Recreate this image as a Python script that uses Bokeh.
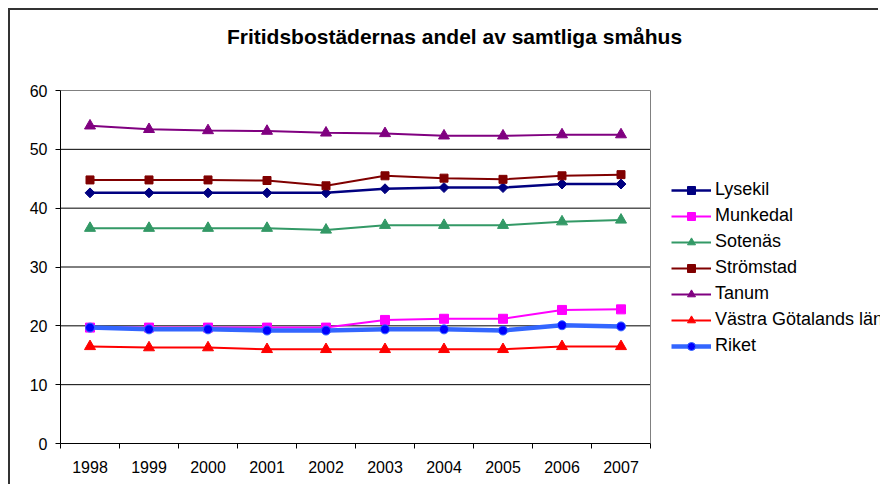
import math
from bokeh.plotting import figure
from bokeh.models import FixedTicker, Legend, LegendItem, Range1d, Label
from bokeh.embed import file_html
from bokeh.resources import INLINE

title_text = "Fritidsbostädernas andel av samtliga småhus"
years = ["1998", "1999", "2000", "2001", "2002", "2003", "2004", "2005", "2006", "2007"]
y_ticks = [0, 10, 20, 30, 40, 50, 60]

lysekil = [42.6, 42.6, 42.6, 42.6, 42.6, 43.3, 43.5, 43.5, 44.1, 44.1]
munkedal = [19.7, 19.7, 19.7, 19.7, 19.7, 21.0, 21.2, 21.2, 22.7, 22.8]
sotenas = [36.6, 36.6, 36.6, 36.6, 36.3, 37.1, 37.1, 37.1, 37.7, 38.0]
stromstad = [44.8, 44.8, 44.8, 44.7, 43.8, 45.5, 45.1, 44.9, 45.5, 45.7]
tanum = [54.0, 53.4, 53.2, 53.1, 52.8, 52.7, 52.3, 52.3, 52.5, 52.5]
vgl = [16.5, 16.3, 16.3, 16.0, 16.0, 16.0, 16.0, 16.0, 16.5, 16.5]
riket = [19.7, 19.4, 19.4, 19.2, 19.2, 19.4, 19.4, 19.2, 20.1, 19.9]

FONT = "Liberation Sans"

# layout (pixels)
W, H = 870, 476
LEFT, BOTTOM = 50, 43
PLOT_W, PLOT_H = 590, 353          # plot area of the chart
n = len(years)
ymax = y_ticks[-1]
frame_w = W - LEFT
frame_h = H - BOTTOM
x_end = n * frame_w / PLOT_W
y_end = ymax * frame_h / PLOT_H

x = [i + 0.5 for i in range(n)]

p = figure(width=W, height=H, output_backend="svg", toolbar_location=None,
           x_range=Range1d(0, x_end), y_range=Range1d(0, y_end),
           min_border_left=LEFT, min_border_right=0, min_border_top=0, min_border_bottom=BOTTOM,
           styles={"margin-left": "8px", "margin-top": "8px",
                   "border-left": "2px solid #333333", "border-top": "2px solid #333333"})
p.background_fill_color = "white"
p.border_fill_color = "white"
p.outline_line_color = None

# axes
p.xaxis.bounds = (0, n)
p.xaxis.ticker = FixedTicker(ticks=x, minor_ticks=list(range(n + 1)))
p.xaxis.major_label_overrides = {xx: yr for xx, yr in zip(x, years)}
p.xaxis.major_tick_in = 0
p.xaxis.major_tick_out = 0
p.xaxis.minor_tick_in = 0
p.xaxis.minor_tick_out = 5
p.xaxis.minor_tick_line_color = "black"
p.xaxis.axis_line_color = "black"
p.xaxis.major_label_text_font = FONT
p.xaxis.major_label_text_font_size = "16px"
p.xaxis.major_label_text_color = "black"
p.xaxis.major_label_standoff = 12

p.yaxis.bounds = (0, ymax)
p.yaxis.ticker = FixedTicker(ticks=y_ticks, minor_ticks=[])
p.yaxis.major_tick_in = 0
p.yaxis.major_tick_out = 5
p.yaxis.major_tick_line_color = "black"
p.yaxis.axis_line_color = "black"
p.yaxis.major_label_text_font = FONT
p.yaxis.major_label_text_font_size = "16px"
p.yaxis.major_label_text_color = "black"
p.yaxis.major_label_standoff = 8

p.xgrid.visible = False
p.ygrid.visible = False

# gridlines limited to the plot area
gy = y_ticks[1:-1]
p.segment(x0=[0] * len(gy), x1=[n] * len(gy), y0=gy, y1=gy, line_color="black", line_width=1)
# plot area border (top and right)
p.segment(x0=[0, n], x1=[n, n], y0=[ymax, 0], y1=[ymax, ymax], line_color="#808080", line_width=1)

series = [
    ("Lysekil", lysekil, "#000080", "#000080", "diamond", 2.5),
    ("Munkedal", munkedal, "#FF00FF", "#FF00FF", "square", 2),
    ("Sotenäs", sotenas, "#339966", "#339966", "triangle", 2),
    ("Strömstad", stromstad, "#800000", "#800000", "square", 2),
    ("Tanum", tanum, "#800080", "#800080", "triangle", 2),
    ("Västra Götalands län", vgl, "#FF0000", "#FF0000", "triangle", 2),
    ("Riket", riket, "#3366FF", "#0000FF", "circle", 4.5),
]

items = []
for name, vals, lc, mc, mk, lw in series:
    lr = p.line(x, vals, line_color=lc, line_width=lw)
    if mk == "diamond":
        sr = p.scatter(x, vals, marker="square", angle=math.pi / 4, size=7,
                       fill_color=mc, line_color=mc)
    elif mk == "square":
        sz = 9 if name == "Munkedal" else 8
        sr = p.scatter(x, vals, marker="square", size=sz, fill_color=mc, line_color=mc)
    elif mk == "triangle":
        sr = p.scatter(x, vals, marker="triangle", size=11, fill_color=mc, line_color=mc)
    else:
        sr = p.scatter(x, vals, marker="circle", size=9, fill_color=mc, line_color="#3366FF")
    items.append(LegendItem(label=name, renderers=[lr, sr]))

legend = Legend(items=items, location=(611, 87), orientation="vertical",
                glyph_width=40, glyph_height=20, label_height=20, spacing=5,
                label_standoff=4, padding=0, margin=0,
                label_text_font=FONT, label_text_font_size="18px",
                label_text_color="black",
                border_line_color=None, background_fill_alpha=0)
p.add_layout(legend, "center")

p.add_layout(Label(x=442, y=24, x_units="canvas", y_units="canvas", text=title_text,
                   text_align="center", text_baseline="middle",
                   text_font=FONT, text_font_size="21px", text_font_style="bold",
                   text_color="black"))

open("out.html", "w").write(file_html(p, INLINE))
